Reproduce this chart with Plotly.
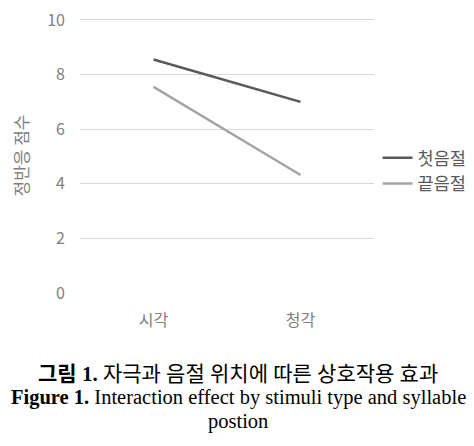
import plotly.graph_objects as go

categories = ["시각", "청각"]
first_syllable = [8.55, 7.0]
last_syllable = [7.55, 4.32]
series_names = ["첫음절", "끝음절"]
y_ticks = [0, 2, 4, 6, 8, 10]

fig = go.Figure()
fig.add_trace(go.Scatter(x=categories, y=first_syllable, mode="lines", name=series_names[0],
                         line=dict(color="#595959", width=2.5)))
fig.add_trace(go.Scatter(x=categories, y=last_syllable, mode="lines", name=series_names[1],
                         line=dict(color="#a5a5a5", width=2.5)))

sans = "Noto Sans CJK KR, Open Sans, sans-serif"
tick_font = dict(family=sans, size=16, color="#808080")

fig.update_layout(
    width=466, height=438,
    margin=dict(l=72, r=100, t=10, b=153, autoexpand=False),
    paper_bgcolor="white", plot_bgcolor="white",
    showlegend=True,
    legend=dict(x=1.012, y=0.444, xanchor="left", yanchor="middle",
                font=dict(family=sans, size=17.5, color="#595959"),
                itemwidth=30, bgcolor="rgba(0,0,0,0)"),
    xaxis=dict(type="category", range=[-0.5, 1.5], showgrid=False, zeroline=False,
               showline=False, tickfont=tick_font, ticks="outside", ticklen=13,
               tickcolor="rgba(0,0,0,0)"),
    yaxis=dict(range=[0, 10.07], tickvals=y_ticks, showgrid=True, gridcolor="#d9d9d9",
               gridwidth=1, zeroline=False, showline=False, tickfont=tick_font,
               ticklabelstandoff=14, ticklabeloverflow="allow",
               title=dict(text="정반응 점수", font=dict(family=sans, size=17, color="#808080"),
                          standoff=20)),
)

cap_font_ko = dict(family="Liberation Serif, Noto Sans CJK KR, serif", size=21, color="black")
cap_font_en = dict(family="Liberation Serif, serif", size=20.5, color="black")
fig.add_annotation(xref="paper", yref="paper", x=0.539, y=-0.296, xanchor="center", yanchor="middle",
                   text="<b>그림 1.</b> 자극과 음절 위치에 따른 상호작용 효과", showarrow=False, font=cap_font_ko)
fig.add_annotation(xref="paper", yref="paper", x=0.539, y=-0.379, xanchor="center", yanchor="middle",
                   text="<b>Figure 1.</b> Interaction effect by stimuli type and syllable", showarrow=False, font=cap_font_en)
fig.add_annotation(xref="paper", yref="paper", x=0.539, y=-0.469, xanchor="center", yanchor="middle",
                   text="postion", showarrow=False, font=cap_font_en)

fig.write_html("out.html")
